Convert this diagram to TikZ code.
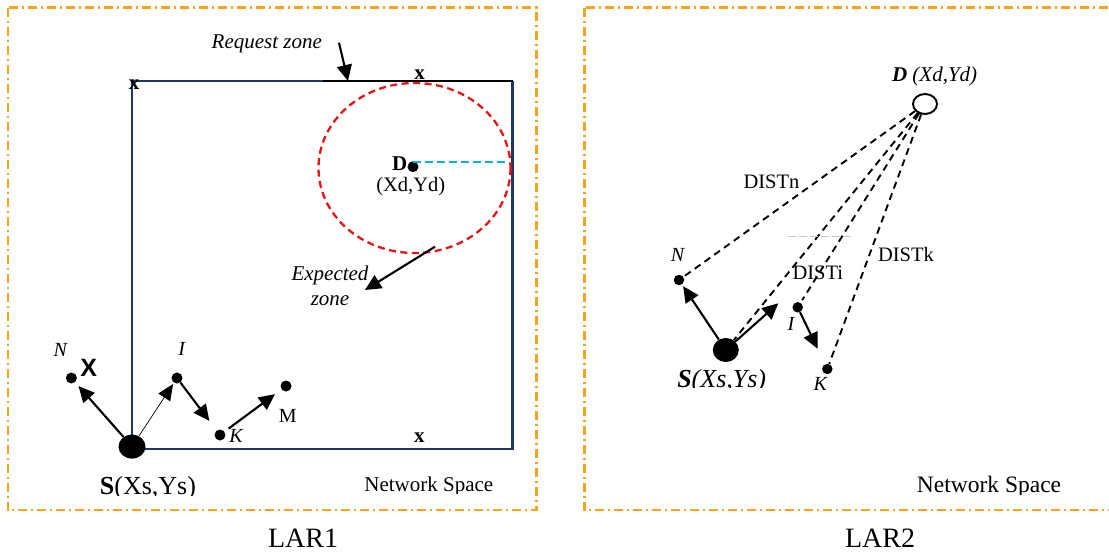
\documentclass[tikz,border=0pt]{standalone}
\usepackage{fontspec}
\setmainfont{Liberation Serif}
\setsansfont{Liberation Sans}
\usetikzlibrary{arrows.meta,shapes.geometric}

\definecolor{frameorange}{RGB}{247,163,30}
\definecolor{gridnavy}{RGB}{31,56,100}
\definecolor{zonered}{RGB}{232,20,20}
\definecolor{radiuscyan}{RGB}{0,176,240}

\tikzset{
  frame/.style={draw=frameorange, line width=2.3pt,
    dash pattern=on 9pt off 4pt on 2pt off 4pt},
  dot/.style={circle, fill=black, inner sep=0pt, minimum size=11pt},
  src/.style={ellipse, fill=black, inner sep=0pt, minimum width=27pt, minimum height=24pt},
  txt/.style={inner sep=0pt, anchor=base, font=\fontsize{20}{24}\selectfont},
  itxt/.style={inner sep=0pt, anchor=base, font=\fontsize{20}{24}\selectfont\itshape},
  arr/.style={-{Triangle[length=16pt,width=15pt]}, line width=2.1pt},
  thinarr/.style={-{Triangle[length=16pt,width=14pt]}, line width=0.7pt},
  dline/.style={line width=1.9pt, dash pattern=on 7pt off 5pt},
}

\begin{document}
\begin{tikzpicture}[x=1pt,y=-1pt]
\useasboundingbox (0,0) rectangle (1109,552);
\fill[white] (0,0) rectangle (1109,552);

% ---------------- LAR1 ----------------
\draw[frame] (7.9,7.5) rectangle (536.4,510);

% network space boundary
\coordinate (tl) at (131.8,81);
\coordinate (tm) at (323,81);
\coordinate (tr) at (512.5,81);
\coordinate (br) at (512.5,449.3);
\coordinate (bl) at (131.8,449.3);
\draw[gridnavy, line width=2.2pt] (tm) -- (tl) -- (bl) -- (br) -- (tr);
\draw[black, line width=2.2pt] (tm) -- (tr);

\node[txt, font=\fontsize{21}{24}\selectfont\bfseries, anchor=base] (xa) at (134,89.3) {x};
\node[txt, font=\fontsize{21}{24}\selectfont\bfseries, anchor=base] (xb) at (419.6,79.3) {x};
\node[txt, font=\fontsize{21}{24}\selectfont\bfseries, anchor=base] (xc) at (419.3,442.7) {x};

% expected zone around the destination
\draw[zonered, line width=2.3pt, dash pattern=on 7pt off 4.5pt] (414.5,168) ellipse [x radius=96, y radius=85];
\node[dot] (lD) at (413,166.7) {};
\coordinate (lR) at (509,161.7);
\draw[radiuscyan, line width=2.3pt, dash pattern=on 8pt off 4pt] (lD.center |- lR) -- (lR);
\node[txt, font=\fontsize{21}{24}\selectfont\bfseries] (lDname) at (399.6,170.5) {D};
\node[txt, font=\fontsize{20.5}{24}\selectfont] (lDxy) at (410.7,191) {(Xd,Yd)};

% zone labels
\node[itxt, font=\fontsize{21}{25}\selectfont\itshape] (req) at (266.8,48.3) {Request zone};
\coordinate (reqA) at (339,42.7);
\coordinate (reqB) at (348,81);
\draw[arr] (reqA) -- (reqB);

\node[itxt, font=\fontsize{21}{25}\selectfont\itshape] (exp1) at (330,280.7) {Expected};
\node[itxt, font=\fontsize{21}{25}\selectfont\itshape] (exp2) at (330,305) {zone};
\coordinate (expA) at (435,246.7);
\coordinate (expB) at (365,290);
\draw[arr] (expA) -- (expB);

% nodes
\node[src] (lS) at (132,446.6) {};
\node[dot] (lN) at (71.4,378) {};
\node[dot] (lI) at (177,378) {};
\node[dot] (lK) at (220,435) {};
\node[dot] (lM) at (286,386) {};

\node[itxt] (lNl) at (60.4,356.7) {N};
\node[inner sep=0pt, anchor=base, font=\fontsize{25}{29}\selectfont\sffamily\bfseries] (lNx) at (88.6,376.7) {X};
\node[itxt] (lIl) at (181.8,355) {I};
\node[itxt] (lKl) at (236,442.7) {K};
\node[txt] (lMl) at (287.8,422.3) {M};

\draw[arr, shorten >=5pt] (lS) -- (lN);
\draw[thinarr, shorten >=1.5pt] (lS) -- (lI);
\draw[arr, shorten >=12pt] (lI) -- (lK);
\draw[arr, shorten <=5pt, shorten >=8pt] (lK) -- (lM);

\begin{scope}
  \clip (0,0) rectangle (560,495.5);
  \node[inner sep=0pt, anchor=base, font=\fontsize{26}{30}\selectfont] (lSl) at (148,494.5) {\textbf{S}(Xs,Ys)};
\end{scope}
\begin{scope}
  \clip (0,0) rectangle (560,493.5);
  \node[inner sep=0pt, anchor=base, font=\fontsize{21}{25}\selectfont] (lNS) at (428.8,491.8) {Network Space};
\end{scope}

\node[inner sep=0pt, anchor=base, font=\fontsize{28}{32}\selectfont] (lar1) at (303,547.3) {LAR1};

% ---------------- LAR2 ----------------
\draw[frame] (584.5,7.5) rectangle (1113,510);

\node[draw, ellipse, line width=1.9pt, inner sep=0pt, minimum width=24pt, minimum height=20pt] (rD) at (925,104) {};
\node[itxt, font=\fontsize{21}{24}\selectfont\itshape] (rDl) at (934.6,81.7) {\textbf{D} (Xd,Yd)};

\node[src, minimum width=26pt, minimum height=24pt] (rS) at (725.8,350) {};
\node[dot, minimum size=10.5pt] (rN) at (679,280) {};
\node[dot, minimum size=10.5pt] (rI) at (797.7,307.3) {};
\node[dot, minimum size=10.5pt] (rK) at (827.3,369) {};

\draw[dline, shorten >=-9pt] (rD) -- (rN);
\draw[dline] (rD) -- (rS);
\draw[dline, shorten >=3pt] (rD) -- (rI);
\draw[dline] (rD) -- (rK);
\draw[gray!45, line width=0.8pt, dash pattern=on 8pt off 3pt] (788,236.8) -- (852,236.8);

\node[txt, font=\fontsize{20.5}{24}\selectfont] (dn) at (771.5,188.3) {DISTn};
\node[txt, font=\fontsize{20.5}{24}\selectfont] (dk) at (906,261) {DISTk};
\node[txt, font=\fontsize{20.5}{24}\selectfont] (di) at (817.8,279.3) {DISTi};

\node[itxt] (rNl) at (677.5,261.7) {N};
\node[itxt] (rIl) at (791,330) {I};
\node[itxt] (rKl) at (820.3,390) {K};

\coordinate (rF) at (778.3,303.3);
\draw[arr, shorten >=2pt] (rS) -- (rN);
\draw[arr] (rS) -- (rF);
\draw[arr, shorten >=17pt] (rI) -- (rK);

\begin{scope}
  \clip (560,0) rectangle (1109,387.5);
  \node[inner sep=0pt, anchor=base, font=\fontsize{26}{30}\selectfont\itshape] (rSl) at (721.7,387) {\textbf{S}(Xs,Ys)};
\end{scope}
\begin{scope}
  \clip (560,0) rectangle (1109,494);
  \node[inner sep=0pt, anchor=base, font=\fontsize{23.5}{28}\selectfont] (rNS) at (989,492.5) {Network Space};
\end{scope}

\node[inner sep=0pt, anchor=base, font=\fontsize{28}{32}\selectfont] (lar2) at (880,547.3) {LAR2};
\end{tikzpicture}
\end{document}
